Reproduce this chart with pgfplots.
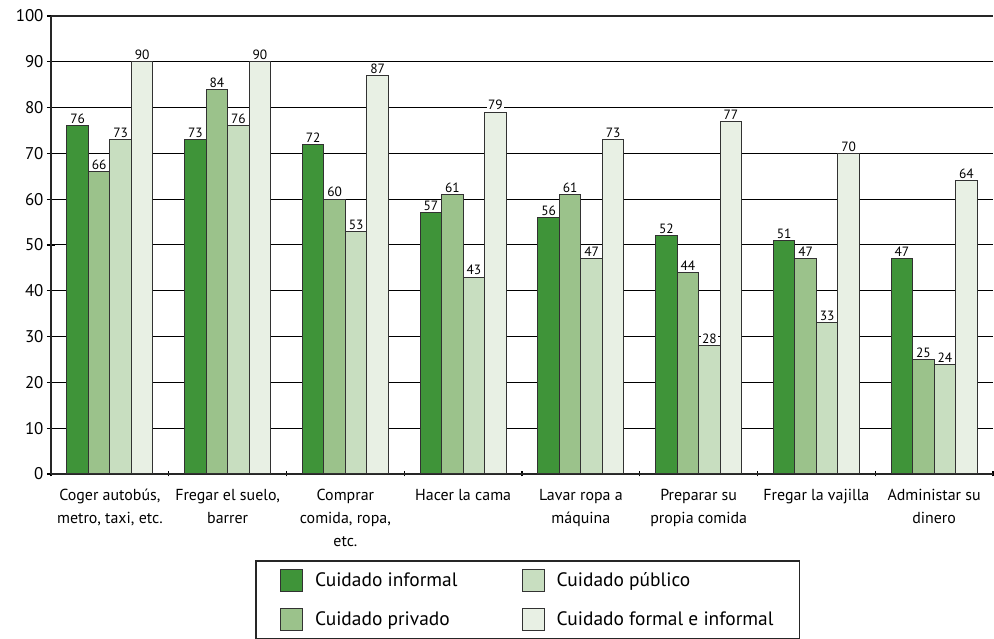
\documentclass[border=0pt]{standalone}
\usepackage{fontspec}
\setmainfont{PT Sans}
\usepackage{pgfplots}
\pgfplotsset{compat=1.18}

\definecolor{cinformal}{RGB}{63,148,57}
\definecolor{cprivado}{RGB}{155,194,139}
\definecolor{cpublico}{RGB}{200,222,192}
\definecolor{cformal}{RGB}{232,240,228}
\definecolor{barline}{RGB}{50,50,50}

\pgfplotsset{
  sqlegend/.style={legend image code/.code={%
      \draw[##1, draw=barline, line width=1.1bp] (0bp,-11bp) rectangle (22bp,11bp);}},
}

\begin{document}
\begin{tikzpicture}[x=1bp,y=1bp]
\useasboundingbox (0,0) rectangle (994,639);
\begin{axis}[
  at={(51bp,165bp)}, anchor=south west,
  width=942bp, height=458bp, scale only axis,
  ybar=0pt, bar width=21.5bp,
  xmin=-0.5, xmax=7.5, ymin=0, ymax=100,
  xtick={0,...,7},
  xticklabels={
    {Coger autobús,\\metro, taxi, etc.},
    {Fregar el suelo,\\barrer},
    {Comprar\\comida, ropa,\\etc.},
    {Hacer la cama},
    {Lavar ropa a\\máquina},
    {Preparar su\\propia comida},
    {Fregar la vajilla},
    {Administar su\\dinero}},
  minor xtick={-0.5,0.5,...,7.5},
  xticklabel style={align=center, font=\fontsize{16}{23}\selectfont, yshift=-8bp},
  major x tick style={draw=none},
  ytick={0,10,...,100},
  yticklabel style={font=\fontsize{17}{17}\selectfont},
  /pgf/number format/assume math mode=true,
  ymajorgrids, grid style={black, line width=1bp},
  tick align=outside, major tick length=8bp, minor tick length=5bp,
  tick style={black, line width=1.2bp},
  axis lines=left, axis line style={-, line width=2.4bp, black!85},
  nodes near coords,
  nodes near coords style={font=\fontsize{13.5}{14}\selectfont, fill=white,
    inner sep=1.5bp, anchor=south, text=black},
  legend columns=2, transpose legend,
  legend cell align=left,
  legend style={at={(0.2166,-0.1878)}, anchor=north west,
    draw=black!85, line width=1.8bp, font=\fontsize{19.5}{22}\selectfont,
    inner xsep=24bp, inner ysep=8bp,
    /tikz/every odd column/.append style={column sep=10bp},
    /tikz/every even column/.append style={column sep=62bp},
    row sep=16bp},
  after end axis/.code={
    \draw[line width=2.4bp, black!85] (rel axis cs:0,1) -- (rel axis cs:1,1);
  },
]
\addplot[fill=cinformal, draw=barline, line width=1.1bp, sqlegend]
  coordinates {(0,76) (1,73) (2,72) (3,57) (4,56) (5,52) (6,51) (7,47)};
\addplot[fill=cprivado, draw=barline, line width=1.1bp, sqlegend]
  coordinates {(0,66) (1,84) (2,60) (3,61) (4,61) (5,44) (6,47) (7,25)};
\addplot[fill=cpublico, draw=barline, line width=1.1bp, sqlegend]
  coordinates {(0,73) (1,76) (2,53) (3,43) (4,47) (5,28) (6,33) (7,24)};
\addplot[fill=cformal, draw=barline, line width=1.1bp, sqlegend]
  coordinates {(0,90) (1,90) (2,87) (3,79) (4,73) (5,77) (6,70) (7,64)};
\legend{Cuidado informal, Cuidado privado, Cuidado público, Cuidado formal e informal}
\end{axis}
\end{tikzpicture}
\end{document}
